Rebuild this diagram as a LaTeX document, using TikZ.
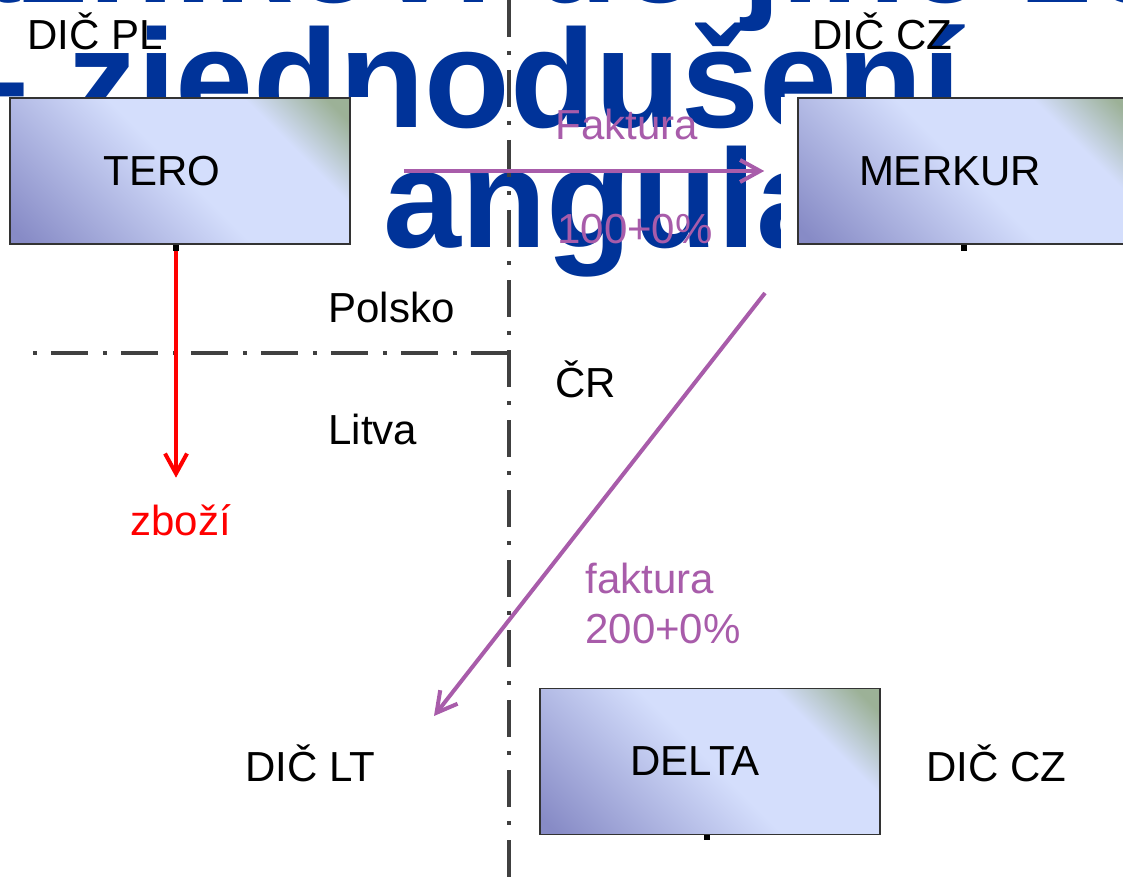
\documentclass[tikz,border=0pt]{standalone}
\usepackage{fontspec}
\setmainfont{Liberation Sans}
\usetikzlibrary{arrows.meta, positioning}
\definecolor{titleblue}{HTML}{003399}
\definecolor{invoice}{HTML}{A85CAA}
\definecolor{borderline}{HTML}{404040}
\definecolor{boxdark}{HTML}{878BC6}
\definecolor{boxlight}{HTML}{D4DEFC}
\definecolor{boxgreen}{HTML}{9CB197}
\pgfdeclarehorizontalshading{boxshade}{100bp}{color(0bp)=(boxdark); color(17bp)=(boxdark); color(50bp)=(boxlight); color(70bp)=(boxlight); color(82bp)=(boxgreen); color(100bp)=(boxgreen)}

\begin{document}
\begin{tikzpicture}[
    x=0.5pt, y=-0.5pt,
    font=\fontsize{21}{25}\selectfont,
    title/.style={anchor=base west, inner sep=0pt, text=titleblue, font=\fontsize{70}{70}\selectfont\bfseries},
    firm/.style={draw=black!80, line width=0.8pt, shade, shading=boxshade, shading angle=45, minimum width=170pt, minimum height=73pt},
    tag/.style={anchor=base west, inner sep=0pt},
    country/.style={line width=1.75pt, draw=borderline, dash pattern=on 18.5pt off 7pt on 2pt off 7.5pt},
    arrow/.style={-{Straight Barb[length=10pt,width=11pt]}, line width=2pt, invoice},
    goodsarrow/.style={-{Straight Barb[length=10pt,width=11pt]}, line width=2pt, red}
  ]
    \useasboundingbox (0,0) rectangle (1123,877);
    \clip (0,0) rectangle (1123,877);

    % slide title behind the scheme
    \node[title] (head1) at (-285,3) {zákazníkovi do jiné země EU};
    \node[title] (head2) at (-50,128) {– zjednodušení};
    \node[title] (head3) at (243,248) {triangulace};

    % white frames of the firm boxes
    \fill[white] (0,97) rectangle (373,253);
    \fill[white] (781,97) rectangle (1123,253);

    \node[firm] (tero) at (180,171) {TERO\kern18pt};
    \node[firm] (merkur) at (968,171) {MERKUR\kern18pt};
    \node[firm] (delta) at (710,761.5) {DELTA\kern15pt};

    % borders
    \draw[country] (509,0) -- (509,877);
    \draw[country, dash pattern=on 2pt off 7pt on 18.5pt off 7.5pt] (33,353) -- (509,353);

    \node[tag] (dicpl) at (27,50) {DIČ PL};
    \node[tag] (diccz1) at (812,50) {DIČ CZ};
    \node[tag] (pl) at (328,322) {Polsko};
    \node[tag] (lt) at (328,444) {Litva};
    \node[tag] (cr) at (555,397) {ČR};
    \node[tag] (diclt) at (245,781) {DIČ LT};
    \node[tag] (diccz2) at (926,781) {DIČ CZ};

    \node[tag, text=red] (goods) at (130,535) {zboží};
    \node[tag, text=invoice] (inv1) at (555,140) {Faktura};
    \node[tag, text=invoice] (price1) at (557,243) {100+0\%};
    \node[tag, text=invoice, align=left] (inv2) at (585,643) {faktura\\200+0\%};

    \coordinate (inv2from) at (765,293);
    \coordinate (inv2to) at (434,716);

    \draw[line width=3pt] ([xshift=-2pt]tero.south) -- ++(0,6);
    \draw[line width=3pt] ([xshift=-2pt]merkur.south) -- ++(0,6);
    \draw[line width=3pt] ([xshift=-1.5pt]delta.south) -- ++(0,5);

    \draw[goodsarrow] ([xshift=-2pt,yshift=-3pt]tero.south) -- ([xshift=-2pt]tero.south |- goods.north) [shorten >=13pt];
    \draw[arrow, shorten <=26.5pt, shorten >=16.5pt] (tero.east) -- (merkur.west);
    \draw[arrow] (inv2from) -- (inv2to);
  \end{tikzpicture}
\end{document}
